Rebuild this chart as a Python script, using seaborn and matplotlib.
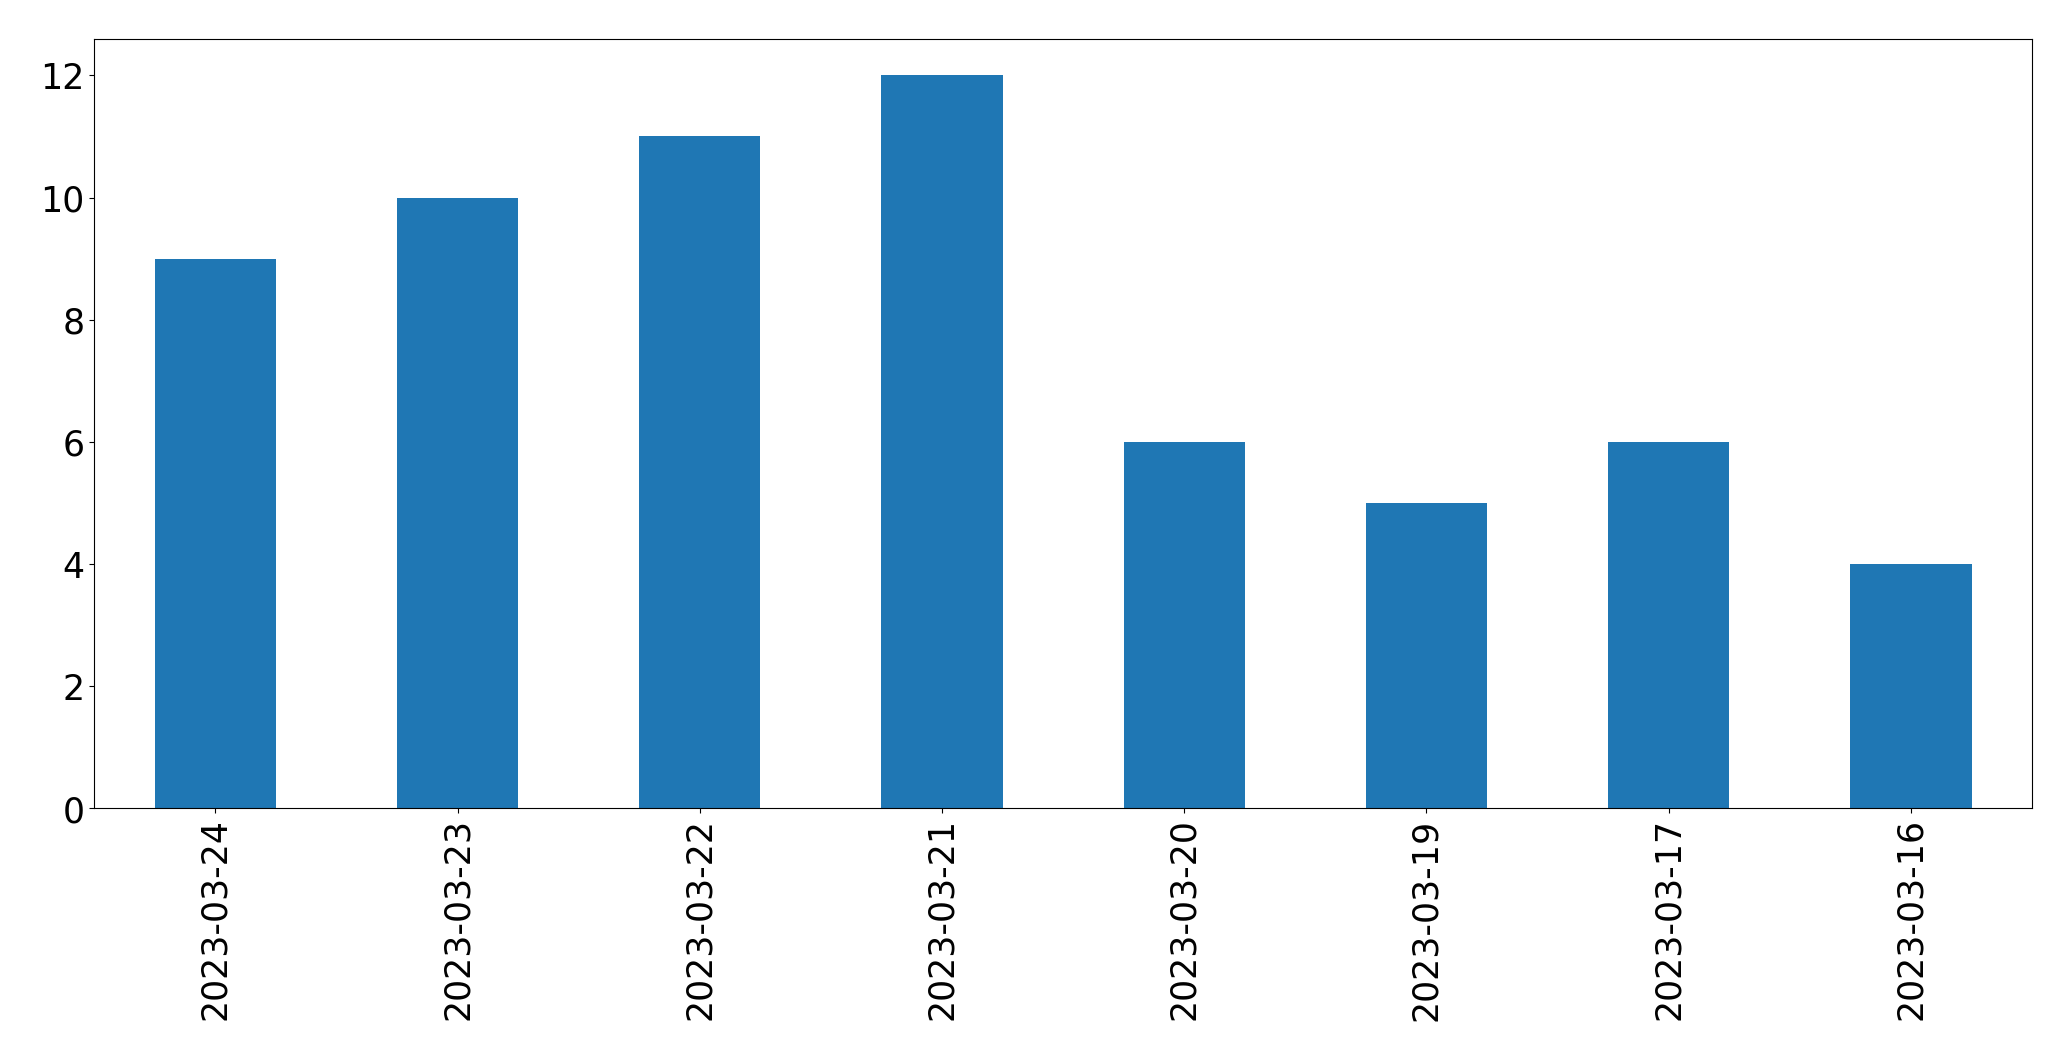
import matplotlib
matplotlib.use("Agg")
import matplotlib.pyplot as plt
import seaborn as sb
import pandas as pd

dates = ['2023-03-24', '2023-03-23', '2023-03-22', '2023-03-21',
         '2023-03-20', '2023-03-19', '2023-03-17', '2023-03-16']
counts = [9, 10, 11, 12, 6, 5, 6, 4]

df = pd.DataFrame({'date': dates, 'count': counts})

fig = plt.figure(figsize=(20.71, 10.605), dpi=100)
ax = fig.add_axes([0.0455, 0.2375, 0.9357, 0.7255])
sb.barplot(data=df, x='date', y='count', color='#1f77b4', saturation=1,
           width=0.5, ax=ax)

ax.set_xlim(-0.5, 7.5)
ax.set_ylim(0, 12.6)
ax.set_xlabel('')
ax.set_ylabel('')
ax.tick_params(axis='both', labelsize=25)
plt.setp(ax.get_xticklabels(), rotation=90)

fig.savefig('out.png', dpi=100)
